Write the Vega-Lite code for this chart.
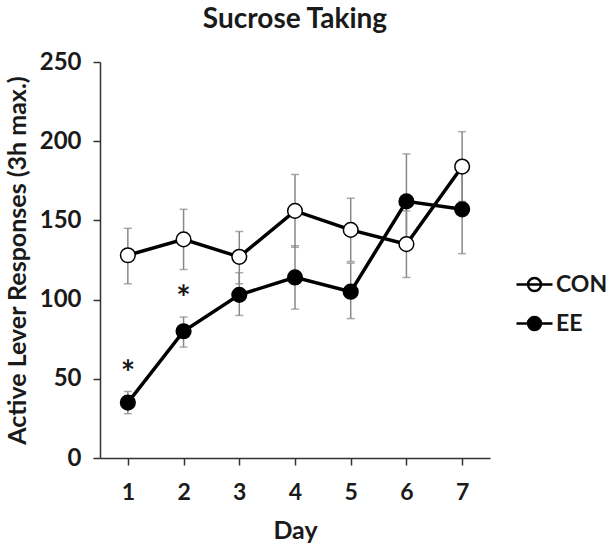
{
  "$schema": "https://vega.github.io/schema/vega-lite/v6.json",
  "width": 390,
  "height": 396,
  "autosize": {"type": "none"},
  "padding": {"left": 100, "top": 62, "right": 117, "bottom": 90},
  "background": "white",
  "title": {"text": "Sucrose Taking", "font": "Lato", "fontSize": 28, "fontWeight": "bold", "color": "#1a1a1a", "anchor": "middle", "offset": 16},
  "config": {
    "view": {"stroke": null},
    "axis": {
      "labelFont": "Lato", "titleFont": "Lato", "labelFontWeight": "bold", "titleFontWeight": "bold",
      "labelColor": "#1a1a1a", "titleColor": "#1a1a1a", "domainColor": "#333333", "tickColor": "#333333",
      "domainWidth": 1.5, "tickWidth": 1.5, "tickSize": 7, "grid": false
    }
  },
  "data": {"values": [
    {"group": "CON", "day": 1, "mean": 128, "lo": 110, "hi": 145},
    {"group": "CON", "day": 2, "mean": 138, "lo": 119, "hi": 157},
    {"group": "CON", "day": 3, "mean": 127, "lo": 110, "hi": 143},
    {"group": "CON", "day": 4, "mean": 156, "lo": 133, "hi": 179},
    {"group": "CON", "day": 5, "mean": 144, "lo": 124, "hi": 164},
    {"group": "CON", "day": 6, "mean": 135, "lo": 114, "hi": 156},
    {"group": "CON", "day": 7, "mean": 184, "lo": 162, "hi": 206},
    {"group": "EE", "day": 1, "mean": 35, "lo": 28, "hi": 42},
    {"group": "EE", "day": 2, "mean": 80, "lo": 70, "hi": 89},
    {"group": "EE", "day": 3, "mean": 103, "lo": 90, "hi": 117},
    {"group": "EE", "day": 4, "mean": 114, "lo": 94, "hi": 134},
    {"group": "EE", "day": 5, "mean": 105, "lo": 88, "hi": 123},
    {"group": "EE", "day": 6, "mean": 162, "lo": 132, "hi": 192},
    {"group": "EE", "day": 7, "mean": 157, "lo": 129, "hi": 184}
  ]},
  "encoding": {
    "x": {
      "field": "day", "type": "quantitative",
      "scale": {"domain": [0.5, 7.5], "nice": false, "zero": false},
      "axis": {"values": [1, 2, 3, 4, 5, 6, 7], "title": "Day", "labelFontSize": 23, "titleFontSize": 25, "labelPadding": 16, "titlePadding": 14}
    }
  },
  "layer": [
    {
      "mark": {"type": "rule", "color": "#888888", "strokeWidth": 1.5},
      "encoding": {
        "y": {"field": "lo", "type": "quantitative", "scale": {"domain": [0, 250], "nice": false},
              "axis": {"values": [0, 50, 100, 150, 200, 250], "title": "Active Lever Responses (3h max.)", "labelFontSize": 24, "titleFontSize": 25, "labelPadding": 12, "titlePadding": 9}},
        "y2": {"field": "hi"}
      }
    },
    {
      "mark": {"type": "tick", "orient": "horizontal", "color": "#888888", "size": 8, "thickness": 1.5},
      "encoding": {"y": {"field": "lo", "type": "quantitative", "title": "Active Lever Responses (3h max.)"}}
    },
    {
      "mark": {"type": "tick", "orient": "horizontal", "color": "#888888", "size": 8, "thickness": 1.5},
      "encoding": {"y": {"field": "hi", "type": "quantitative", "title": "Active Lever Responses (3h max.)"}}
    },
    {
      "mark": {"type": "line", "color": "black", "strokeWidth": 3.5},
      "encoding": {
        "y": {"field": "mean", "type": "quantitative", "title": "Active Lever Responses (3h max.)"},
        "detail": {"field": "group"}
      }
    },
    {
      "mark": {"type": "point", "shape": "circle", "filled": false, "stroke": "black", "strokeWidth": 1.5, "size": 215, "opacity": 1},
      "encoding": {
        "y": {"field": "mean", "type": "quantitative", "title": "Active Lever Responses (3h max.)"},
        "fill": {
          "field": "group", "type": "nominal",
          "scale": {"domain": ["CON", "EE"], "range": ["white", "black"]},
          "legend": {
            "title": null, "orient": "none", "legendX": 415, "legendY": 203, "padding": 0,
            "symbolType": "M-1,0H1M0.36,0A0.36,0.36 0 1 1 -0.36,0A0.36,0.36 0 1 1 0.36,0",
            "symbolSize": 1296, "symbolStrokeColor": "black", "symbolStrokeWidth": 2.5, "symbolOpacity": 1,
            "labelFont": "Lato", "labelFontSize": 23, "labelFontWeight": "bold", "labelColor": "#1a1a1a",
            "labelOffset": 2, "rowPadding": 7
          }
        }
      }
    },
    {
      "data": {"values": [
        {"day": 1, "y": 57, "label": "*"},
        {"day": 2, "y": 104, "label": "*"}
      ]},
      "mark": {"type": "text", "font": "Lato", "fontSize": 34, "fontWeight": "bold", "color": "#1a1a1a", "baseline": "middle", "dy": 7},
      "encoding": {
        "y": {"field": "y", "type": "quantitative", "title": "Active Lever Responses (3h max.)"},
        "text": {"field": "label"}
      }
    }
  ]
}
